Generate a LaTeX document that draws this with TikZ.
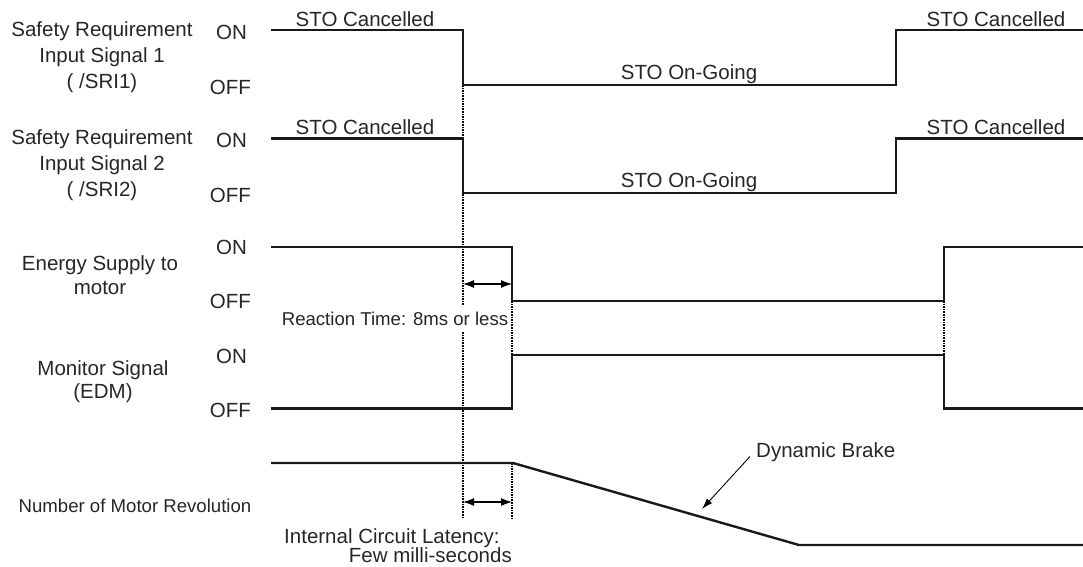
\documentclass[tikz,border=0pt]{standalone}
\usepackage{fontspec}
\setmainfont{Liberation Sans}
\usetikzlibrary{positioning, arrows.meta}

\begin{document}
\begin{tikzpicture}[
    x=1pt, y=-1pt,
    sig/.style={line width=2.4pt, draw=black!90},
    guide/.style={line width=2.4pt, draw=black, dash pattern=on 1.6pt off 1pt},
    span/.style={{Latex[length=11pt,width=8pt]}-{Latex[length=11pt,width=8pt]}, line width=1.1pt},
    pointer/.style={-{Latex[length=11pt,width=7pt]}, line width=0.9pt},
    lbl/.style={font=\fontsize{20.5}{26}\selectfont, text=black!85, align=center, inner sep=0pt},
    lvl/.style={font=\fontsize{20.5}{26}\selectfont, text=black!85, inner sep=0pt, anchor=east},
    note/.style={font=\fontsize{18.6}{24}\selectfont, text=black!85, inner sep=0pt}
]
\useasboundingbox (0,0) rectangle (1083,566);

% === Guides (under the signals) ===
\coordinate (cut) at (463,85);
\coordinate (cutend) at (463,518);
\coordinate (react) at (512,301);
\coordinate (reactend) at (512,355);
\coordinate (late) at (512,463);
\coordinate (lateend) at (512,518);
\coordinate (back) at (944,301);
\coordinate (backend) at (944,355);
\draw[guide] (cut) -- (cutend);
\draw[guide] (react) -- (reactend);
\draw[guide] (late) -- (lateend);
\draw[guide] (back) -- (backend);

% === Safety Requirement Input Signal 1 ===
\node[lbl] (sri1) at (102,57) {Safety Requirement\\Input Signal 1\\( /SRI1)};
\node[lvl] (sri1on) at (247,32) {ON};
\node[lvl] (sri1off) at (251,87) {OFF};
\draw[sig] (271,30) -- (463,30) -- (463,85) -- (896,85) -- (896,30) -- (1083,30);
\node[lbl, anchor=base] (sri1a) at (365,26) {STO Cancelled};
\node[lbl, anchor=base] (sri1b) at (689,79) {STO On-Going};
\node[lbl, anchor=base] (sri1c) at (996,26) {STO Cancelled};

% === Safety Requirement Input Signal 2 ===
\node[lbl] (sri2) at (102,165) {Safety Requirement\\Input Signal 2\\( /SRI2)};
\node[lvl] (sri2on) at (247,140.5) {ON};
\node[lvl] (sri2off) at (251,195) {OFF};
\draw[sig] (271,138.5) -- (463,138.5) -- (463,193) -- (896,193) -- (896,138.5) -- (1083,138.5);
\node[lbl, anchor=base] (sri2a) at (365,134.5) {STO Cancelled};
\node[lbl, anchor=base] (sri2b) at (689,187) {STO On-Going};
\node[lbl, anchor=base] (sri2c) at (996,134.5) {STO Cancelled};

% === Energy Supply to motor ===
\node[lbl, font=\fontsize{20.5}{24}\selectfont] (supply) at (100,275) {Energy Supply to\\motor};
\node[lvl] (supplyon) at (247,247) {ON};
\node[lvl] (supplyoff) at (251,301) {OFF};
\draw[sig] (271,247) -- (512,247) -- (512,301) -- (944,301) -- (944,247) -- (1083,247);
\draw[span] (cut |- 0,284) -- (react |- 0,284);
\node[note, fill=white, inner ysep=6pt] (reacttxt) at (395,319) {Reaction Time: 8ms or less};

% === Monitor Signal (EDM) ===
\node[lbl, font=\fontsize{20.5}{23}\selectfont] (edm) at (103,382) {Monitor Signal\\(EDM)};
\node[lvl] (edmon) at (247,356.5) {ON};
\node[lvl] (edmoff) at (251,410.5) {OFF};
\draw[sig] (271,408.5) -- (512,408.5) -- (512,355) -- (944,355) -- (944,408.5) -- (1083,408.5);

% === Number of Motor Revolution ===
\node[note] (rev) at (135,506) {Number of Motor Revolution};
\draw[sig] (271,463) -- (513,463) -- (799,545) -- (1083,545);
\draw[span] (cut |- 0,502) -- (late |- 0,502);
\node[lbl, anchor=base west] (lat1) at (284,543) {Internal Circuit Latency:};
\node[lbl, anchor=base east] (lat2) at (512,562) {Few milli-seconds};

% === Dynamic Brake ===
\node[lbl, anchor=west] (brake) at (756,452.5) {Dynamic Brake};
\coordinate (braketip) at (702,509);
\draw[pointer] ([xshift=-6pt, yshift=-4pt]brake.west) -- (braketip);

\end{tikzpicture}
\end{document}
